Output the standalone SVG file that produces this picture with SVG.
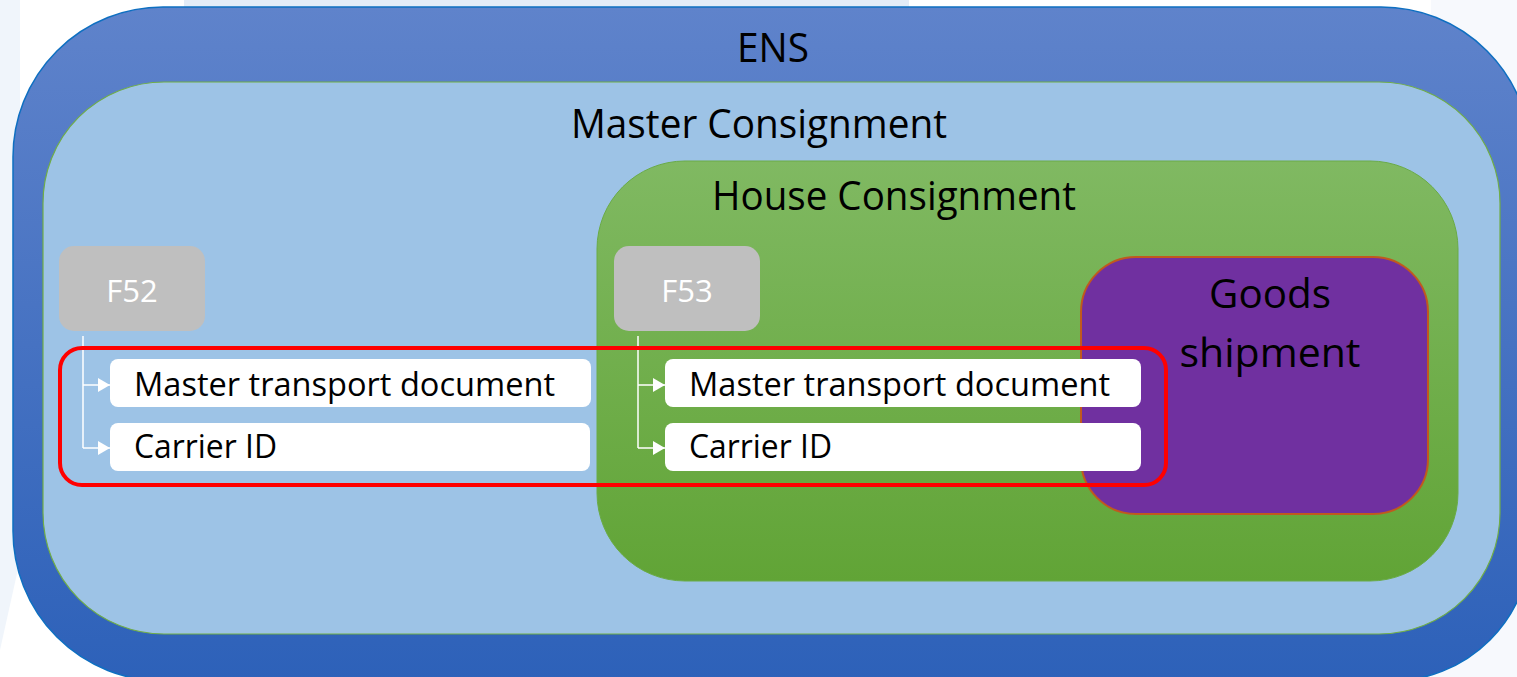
<svg xmlns="http://www.w3.org/2000/svg" width="1517" height="677" viewBox="0 0 1517 677">
  <style>
    .t { font-family: "Open Sans", "Noto Sans", "DejaVu Sans", sans-serif; fill: #000000; }
    .big { font-size: 41px; text-anchor: middle; }
    .item { font-size: 32.5px; }
    .ftxt { font-family: "Open Sans", "Noto Sans", sans-serif; font-size: 31px; fill: #FFFFFF; text-anchor: middle; }
    .fbox { fill: #BFBFBF; }
    .wbox { fill: #FFFFFF; }
    .conn { stroke: #FFFFFF; stroke-width: 1.5; fill: none; }
  </style>
  <defs>
    <linearGradient id="gEns" x1="0" y1="0" x2="0" y2="1">
      <stop offset="0" stop-color="#5F83CB"/>
      <stop offset="1" stop-color="#2D61B9"/>
    </linearGradient>
    <linearGradient id="gHouse" x1="0" y1="0" x2="0" y2="1">
      <stop offset="0" stop-color="#80B962"/>
      <stop offset="1" stop-color="#61A436"/>
    </linearGradient>
    <marker id="arr" viewBox="0 0 12 14" refX="12" refY="7" markerWidth="12" markerHeight="14" markerUnits="userSpaceOnUse" orient="auto">
      <path d="M0,0 L12,7 L0,14 Z" fill="#FFFFFF"/>
    </marker>
  </defs>

  <rect x="0" y="0" width="1517" height="677" fill="#FFFFFF"/>
  <rect x="184" y="0" width="725" height="12" fill="#E3ECF7"/>
  <rect x="1431" y="0" width="86" height="677" fill="#F7F9FD"/>
  <polygon points="0,0 20,0 20,560 0,650" fill="#F0F5FB"/>

  <g id="ens">
    <path d="M163,7 H1381 A150,150 0 0 1 1531,157 V541 A140,140 0 0 1 1391,681 H163 A150,150 0 0 1 13,531 V157 A150,150 0 0 1 163,7 Z" fill="url(#gEns)" stroke="#0E6FC1" stroke-width="1.5"/>
    <text class="t big" x="773" y="62" font-size="42" textLength="72" lengthAdjust="spacingAndGlyphs">ENS</text>
  </g>

  <g id="master-consignment">
    <rect x="43" y="82" width="1457" height="552" rx="121" ry="121" fill="#9DC3E6" stroke="#70AD47" stroke-width="1.2"/>
    <text class="t big" x="759" y="138" textLength="376" lengthAdjust="spacingAndGlyphs">Master Consignment</text>
  </g>

  <g id="house-consignment">
    <rect x="597" y="161" width="861" height="420" rx="88" ry="88" fill="url(#gHouse)" stroke="#6AAB47" stroke-width="1"/>
    <text class="t big" x="894" y="210" textLength="364" lengthAdjust="spacingAndGlyphs">House Consignment</text>
  </g>

  <g id="goods-shipment">
    <rect x="1081" y="257" width="347" height="257" rx="55" ry="55" fill="#7030A0" stroke="#C0591E" stroke-width="2"/>
    <text class="t big" x="1270" y="308" textLength="122" lengthAdjust="spacingAndGlyphs">Goods</text>
    <text class="t big" x="1270" y="367" textLength="181" lengthAdjust="spacingAndGlyphs">shipment</text>
  </g>

  <g id="f52">
    <rect class="fbox" x="59" y="246" width="146" height="85" rx="15" ry="15"/>
    <text class="ftxt" x="132" y="302">F52</text>
  </g>

  <g id="f53">
    <rect class="fbox" x="614" y="246" width="146" height="85" rx="15" ry="15"/>
    <text class="ftxt" x="687" y="302">F53</text>
  </g>

  <g id="f52-master-transport-document">
    <rect class="wbox" x="110" y="359" width="481" height="48" rx="8" ry="8"/>
    <text class="t item" x="134" y="396" textLength="421" lengthAdjust="spacingAndGlyphs">Master transport document</text>
  </g>
  <g id="f52-carrier-id">
    <rect class="wbox" x="110" y="423" width="480" height="48" rx="8" ry="8"/>
    <text class="t item" x="134" y="458" textLength="143" lengthAdjust="spacingAndGlyphs">Carrier ID</text>
  </g>

  <g id="f53-master-transport-document">
    <rect class="wbox" x="665" y="359" width="476" height="48" rx="8" ry="8"/>
    <text class="t item" x="689" y="396" textLength="421" lengthAdjust="spacingAndGlyphs">Master transport document</text>
  </g>
  <g id="f53-carrier-id">
    <rect class="wbox" x="665" y="423" width="476" height="48" rx="8" ry="8"/>
    <text class="t item" x="689" y="458" textLength="143" lengthAdjust="spacingAndGlyphs">Carrier ID</text>
  </g>

  <g id="connectors">
    <path class="conn" d="M83,336 V448"/>
    <path class="conn" d="M83,385 H110" marker-end="url(#arr)"/>
    <path class="conn" d="M83,448 H110" marker-end="url(#arr)"/>
    <path class="conn" d="M638,336 V448"/>
    <path class="conn" d="M638,385 H665" marker-end="url(#arr)"/>
    <path class="conn" d="M638,448 H665" marker-end="url(#arr)"/>
  </g>

  <g id="highlight">
    <rect x="60" y="348" width="1106" height="137" rx="22" ry="22" fill="none" stroke="#FF0000" stroke-width="4"/>
  </g>
</svg>
